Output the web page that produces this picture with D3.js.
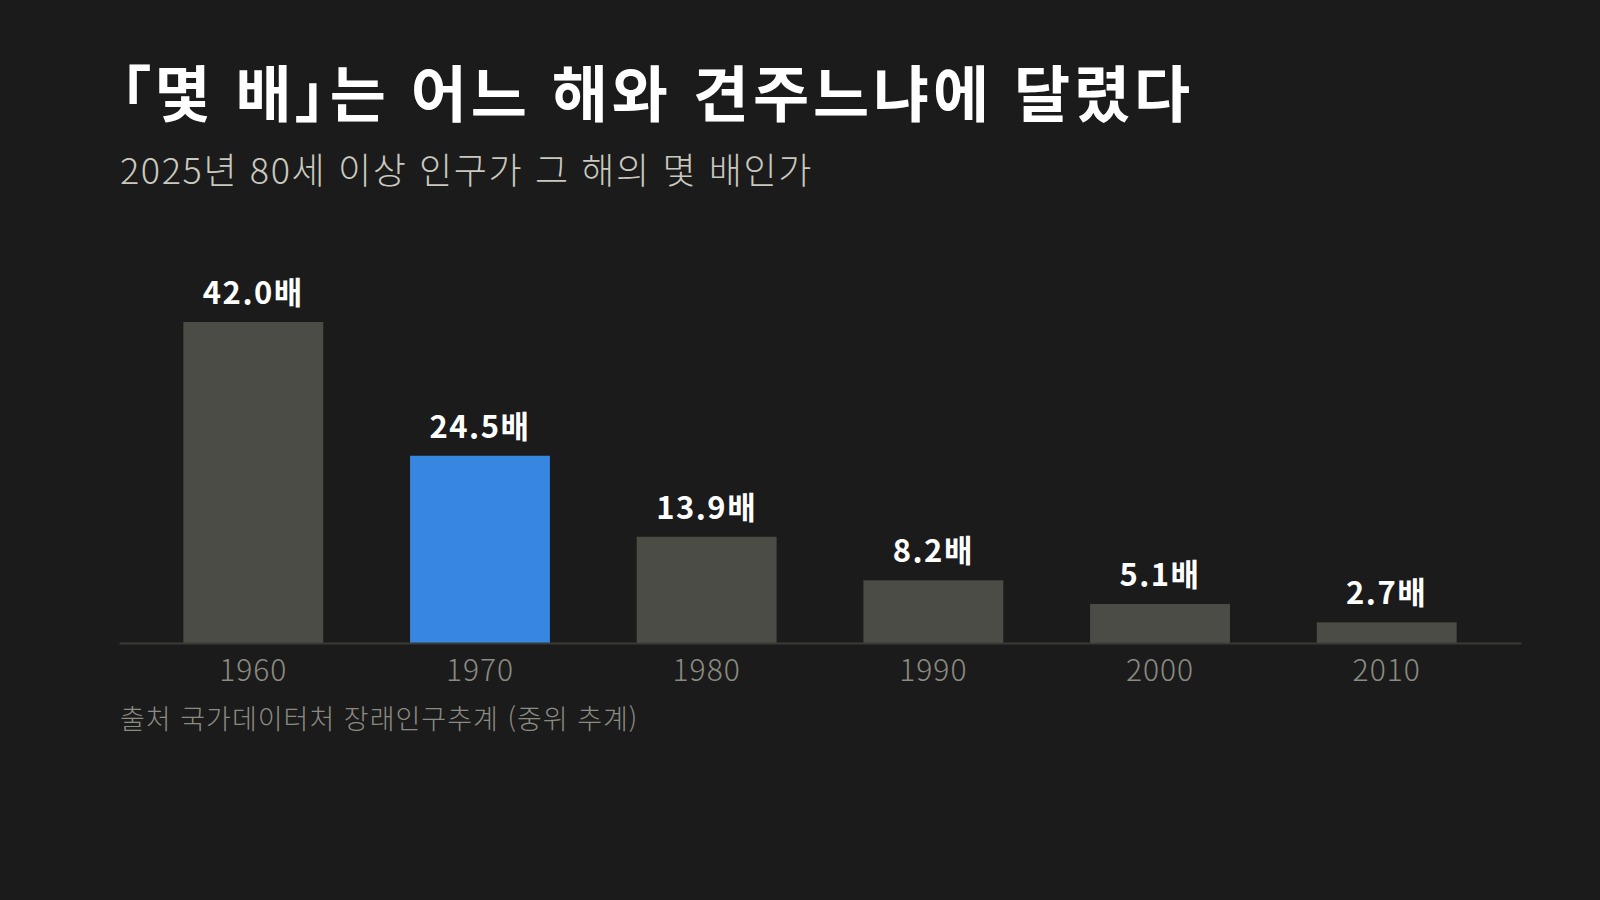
<!DOCTYPE html>
<html lang="ko">
<head>
<meta charset="utf-8">
<script src="https://cdn.jsdelivr.net/npm/d3@7"></script>
<style>
  html, body { margin: 0; padding: 0; background: #1b1b1b; }
  svg { display: block; font-family: "Noto Sans CJK KR", "Noto Sans", sans-serif; }
</style>
</head>
<body>
<div id="chart"></div>
<script>
// chart data
const years = ["1960", "1970", "1980", "1990", "2000", "2010"];
const ratios = [42.0, 24.5, 13.9, 8.2, 5.1, 2.7];
const highlightYear = "1970";
const title = "「몇 배」는 어느 해와 견주느냐에 달렸다";
const subtitle = "2025년 80세 이상 인구가 그 해의 몇 배인가";
const source = "출처 국가데이터처 장래인구추계 (중위 추계)";

const width = 1600, height = 900;
const baseY = 643; // bottom of bars

const svg = d3.select("#chart")
    .append("svg")
    .attr("width", width)
    .attr("height", height);

svg.append("rect")
    .attr("width", width)
    .attr("height", height)
    .attr("fill", "#1b1b1b");

// headings
svg.append("text")
    .attr("x", 120)
    .attr("y", 117)
    .attr("fill", "#ffffff")
    .attr("font-size", 61)
    .attr("font-weight", 700)
    .attr("letter-spacing", 3.9)
    .style("font-feature-settings", "\"palt\"")
    .text(title);

svg.append("text")
    .attr("x", 120)
    .attr("y", 184)
    .attr("fill", "#c9c9bf")
    .attr("font-size", 36)
    .attr("font-weight", 300)
    .attr("letter-spacing", 1.6)
    .text(subtitle);

// scales
const x = d3.scaleBand()
    .domain(years)
    .range([119, 1521])
    .paddingInner(0.383)
    .paddingOuter(0.284);

const y = d3.scaleLinear()
    .domain([0, 42])
    .range([baseY, 322]);

// bars
const data = years.map((yr, i) => ({ year: yr, value: ratios[i] }));

svg.append("g")
    .selectAll("rect")
    .data(data)
    .enter()
    .append("rect")
    .attr("x", d => x(d.year))
    .attr("y", d => y(d.value))
    .attr("width", x.bandwidth())
    .attr("height", d => baseY - y(d.value))
    .attr("fill", d => d.year === highlightYear ? "#3787e1" : "#4c4c47");

// value labels
svg.append("g")
    .selectAll("text")
    .data(data)
    .enter()
    .append("text")
    .attr("x", d => x(d.year) + x.bandwidth() / 2)
    .attr("y", d => y(d.value) - 18)
    .attr("text-anchor", "middle")
    .attr("fill", "#ffffff")
    .attr("font-size", 31)
    .attr("font-weight", 700)
    .attr("letter-spacing", 1.5)
    .text(d => d.value.toFixed(1) + "배");

// x axis
const xAxis = svg.append("g")
    .attr("transform", `translate(0,${baseY})`)
    .call(d3.axisBottom(x).tickSize(0).tickPadding(17));

xAxis.select(".domain")
    .attr("stroke", "#3a3a37")
    .attr("stroke-width", 2);

xAxis.selectAll("text")
    .attr("fill", "#8b8b82")
    .attr("font-size", 30)
    .attr("font-weight", 300)
    .attr("letter-spacing", 1)
    .attr("font-family", "\"Noto Sans CJK KR\", sans-serif");

// source
svg.append("text")
    .attr("x", 120)
    .attr("y", 729)
    .attr("fill", "#8b8b82")
    .attr("font-size", 27)
    .attr("font-weight", 300)
    .attr("letter-spacing", 1)
    .text(source);
</script>
</body>
</html>
